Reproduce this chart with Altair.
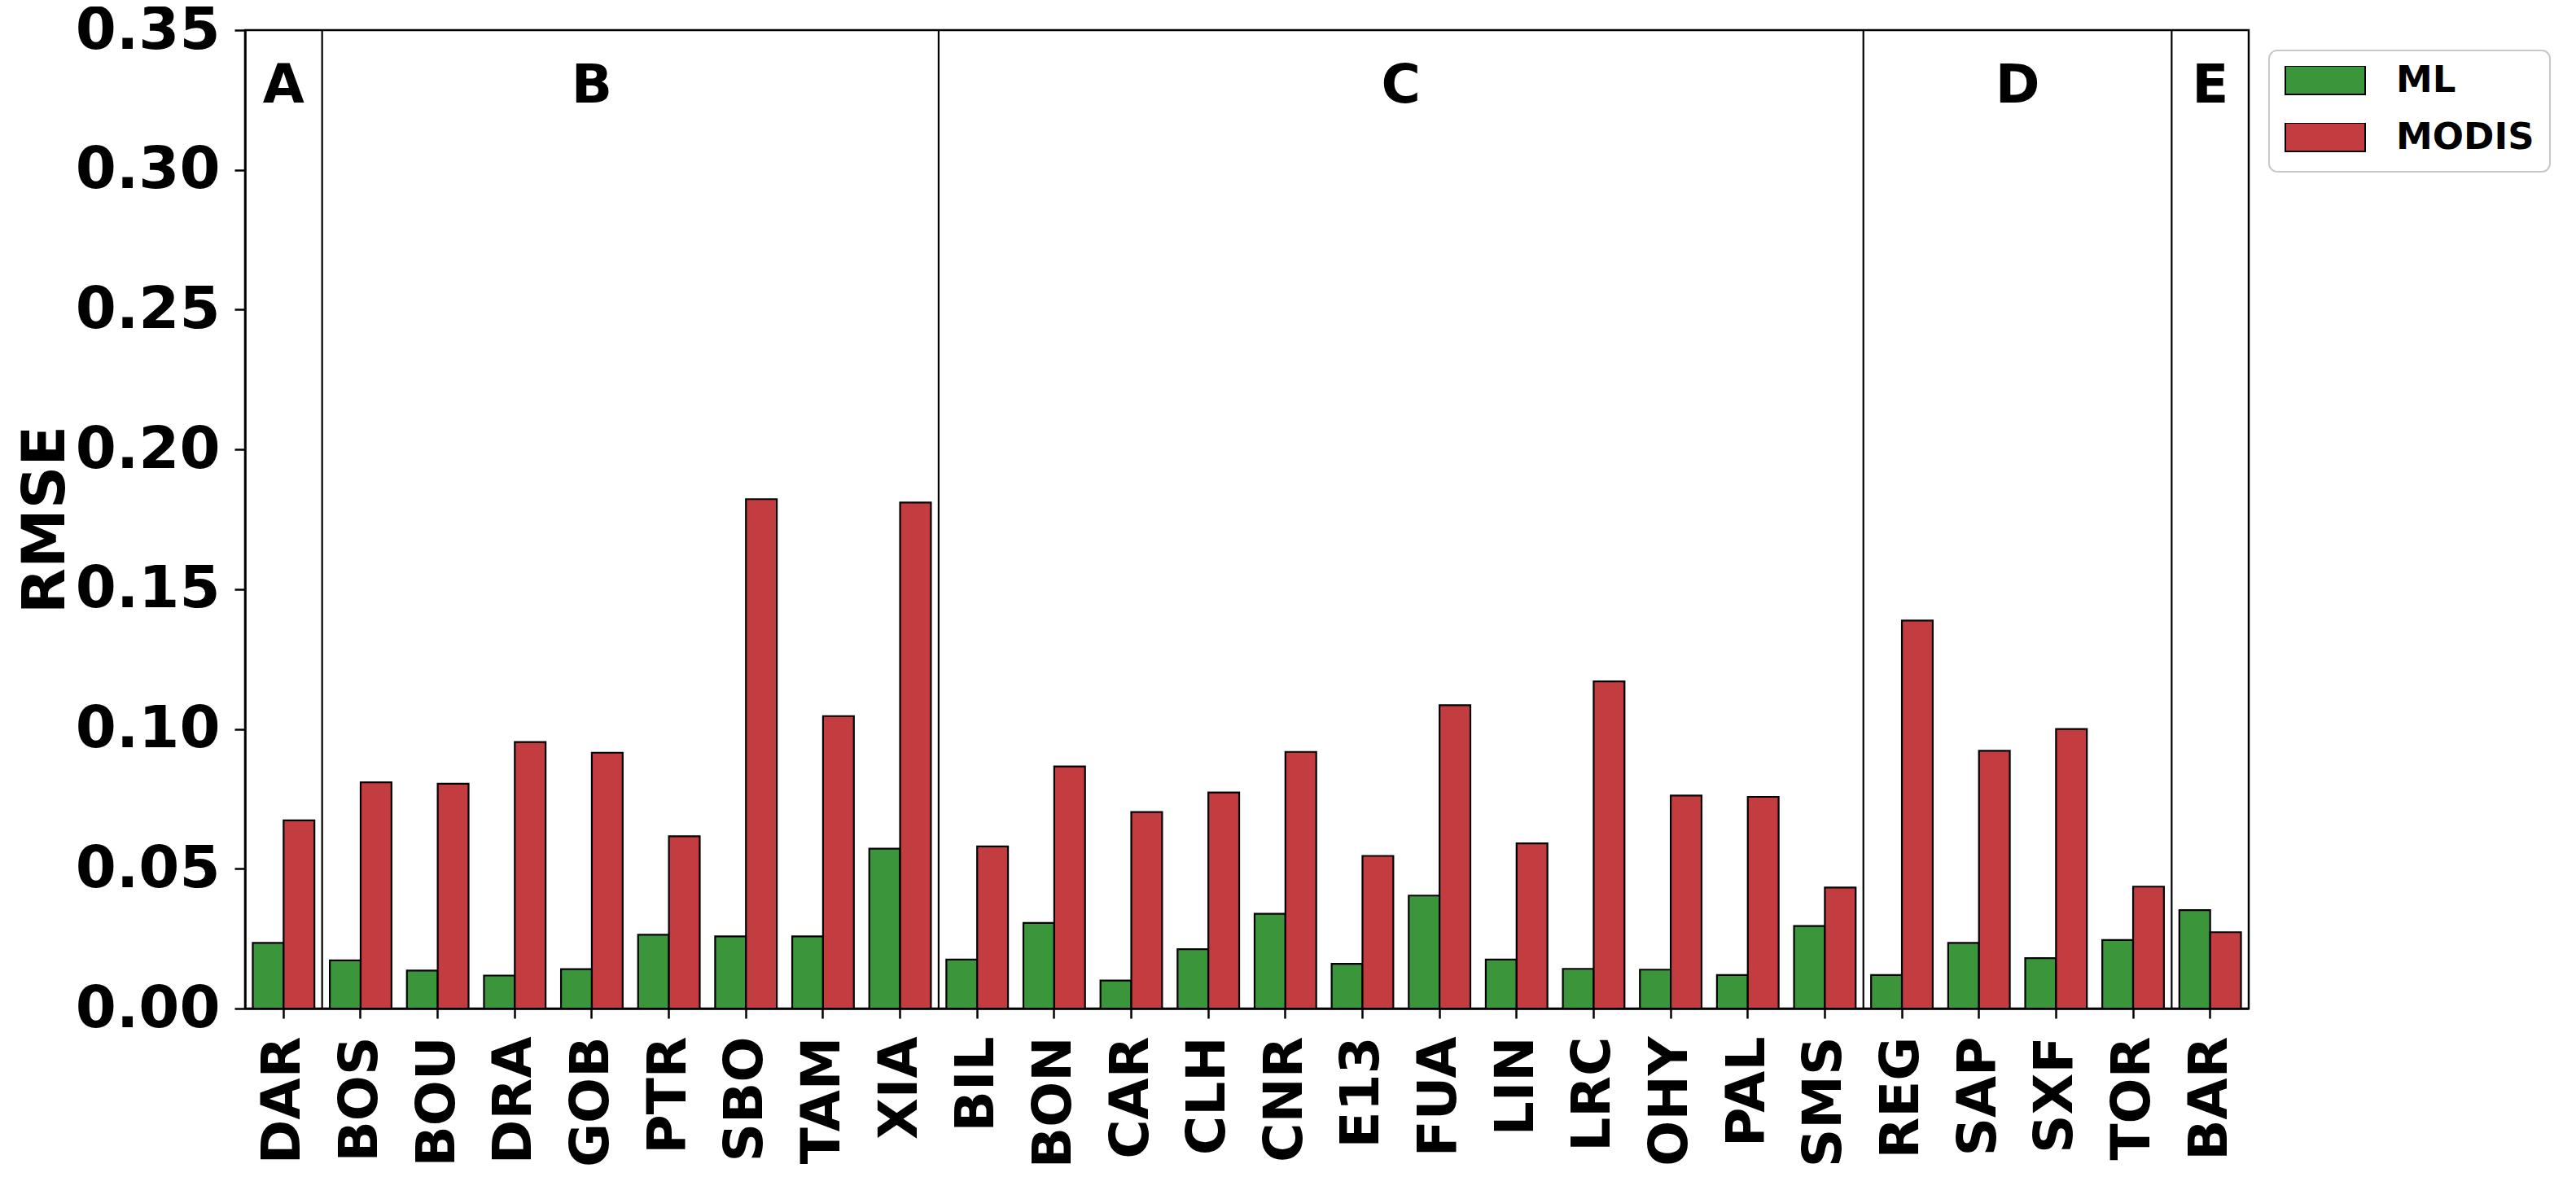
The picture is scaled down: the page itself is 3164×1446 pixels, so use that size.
import altair as alt
import pandas as pd

sites = ["DAR", "BOS", "BOU", "DRA", "GOB", "PTR", "SBO", "TAM", "XIA",
         "BIL", "BON", "CAR", "CLH", "CNR", "E13", "FUA", "LIN", "LRC", "OHY", "PAL", "SMS",
         "REG", "SAP", "SXF", "TOR", "BAR"]
ml = [0.0235, 0.0172, 0.0136, 0.0118, 0.0141, 0.0264, 0.0258, 0.0258, 0.0572,
      0.0175, 0.0306, 0.0100, 0.0212, 0.0339, 0.0160, 0.0404, 0.0175, 0.0142, 0.0139, 0.0120, 0.0295,
      0.0120, 0.0235, 0.0180, 0.0245, 0.0352]
modis = [0.0673, 0.0809, 0.0804, 0.0953, 0.0915, 0.0616, 0.1822, 0.1046, 0.1810,
         0.0580, 0.0866, 0.0703, 0.0773, 0.0918, 0.0546, 0.1085, 0.0591, 0.1170, 0.0762, 0.0757, 0.0433,
         0.1388, 0.0922, 0.1000, 0.0436, 0.0273]
series = ["ML", "MODIS"]
colors = ["#3b953b", "#c33c3f"]

group_names = ["A", "B", "C", "D", "E"]
group_sizes = [1, 8, 12, 4, 1]
group_label_pos = [0, 4, 14.5, 22.5, 25]
group_label_y = 0.324

FONT = "DejaVu Sans"

rows = []
for s, a, b in zip(sites, ml, modis):
    rows.append({"site": s, "series": "ML", "rmse": a})
    rows.append({"site": s, "series": "MODIS", "rmse": b})
df = pd.DataFrame(rows)

# separators between groups (cumulative group sizes, in category-index units)
bounds = []
c = 0
for n in group_sizes[:-1]:
    c += n
    bounds.append(c - 0.5)
sep_df = pd.DataFrame({"pos": bounds})
lab_df = pd.DataFrame({"pos": group_label_pos, "name": group_names, "ly": [group_label_y] * len(group_names)})

yscale = alt.Scale(domain=[0, 0.35], nice=False, zero=True)
yaxis = alt.Axis(values=[0, 0.05, 0.10, 0.15, 0.20, 0.25, 0.30, 0.35], format=".2f",
                 labelFontSize=72, labelFont=FONT, labelFontWeight="bold", labelColor="black",
                 labelPadding=18, tickSize=13, tickWidth=2.5, tickColor="black",
                 domainColor="black", domainWidth=2.5, grid=False,
                 titleFontSize=73, titleFont=FONT, titleFontWeight="bold", titleColor="black",
                 titlePadding=8)

bars = alt.Chart(df).mark_bar(stroke="black", strokeWidth=2.2, opacity=1).encode(
    x=alt.X("site:N", sort=sites, title=None,
            scale=alt.Scale(paddingInner=0.2, paddingOuter=0.1),
            axis=alt.Axis(labelAngle=-90, labelFontSize=66, labelFont=FONT, labelFontWeight="bold",
                          labelColor="black", labelPadding=22, tickSize=12, tickWidth=2.5,
                          tickColor="black", domainColor="black", domainWidth=2.5,
                          labelLimit=400)),
    xOffset=alt.XOffset("series:N", sort=series, scale=alt.Scale(paddingInner=0, paddingOuter=0)),
    y=alt.Y("rmse:Q", scale=yscale, title="RMSE", axis=yaxis),
    color=alt.Color("series:N", sort=series,
                    scale=alt.Scale(domain=series, range=colors),
                    legend=alt.Legend(title=None, orient="none", legendX=2486, legendY=25,
                                      symbolType="M-1,-0.357L1,-0.357L1,0.357L-1,0.357Z",
                                      symbolSize=9604, symbolStrokeColor="black", symbolStrokeWidth=2,
                                      symbolOpacity=1, clipHeight=35, rowPadding=24,
                                      labelFontSize=45, labelFont=FONT, labelFontWeight="bold",
                                      labelColor="black", labelOffset=37, padding=19,
                                      labelLimit=400,
                                      strokeColor="#c8c8c8", cornerRadius=10,
                                      fillColor="white")),
)

xq = alt.Scale(domain=[-0.5, len(sites) - 0.5], nice=False, zero=False)

seps = alt.Chart(sep_df).mark_rule(color="black", strokeWidth=2.2).encode(
    x=alt.X("pos:Q", scale=xq, axis=None),
)

labels = alt.Chart(lab_df).mark_text(fontSize=66, font=FONT, fontWeight="bold", color="black",
                                     baseline="alphabetic", align="center").encode(
    x=alt.X("pos:Q", scale=xq, axis=None),
    y=alt.Y("ly:Q", scale=yscale, title="RMSE", axis=yaxis),
    text="name:N",
)

chart = alt.layer(bars, seps, labels).resolve_scale(x="independent").properties(
    width=2461, height=1202,
    padding={"left": 293, "top": 29, "right": 380, "bottom": 198},
    autosize=alt.AutoSizeParams(type="none"),
).configure_view(stroke="black", strokeWidth=2.5).configure_legend(strokeWidth=2)

chart.save("out.html", embed_options={"renderer": "svg", "actions": False})
